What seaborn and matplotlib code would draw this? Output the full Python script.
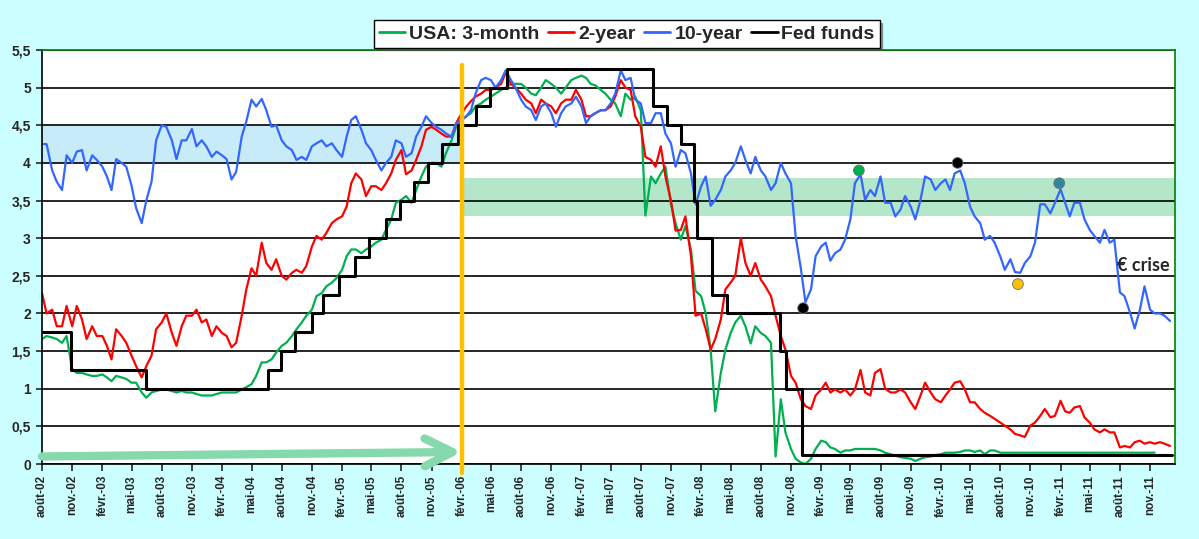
import numpy as np
import pandas as pd
import matplotlib
matplotlib.use("Agg")
import matplotlib.pyplot as plt
import matplotlib.dates as mdates
from matplotlib.lines import Line2D
from matplotlib.ticker import FuncFormatter
import seaborn as sns

nan = np.nan

# semi-monthly readings (1st and 15th of each month), Aug 2002 -> Jan 2012
dates = pd.date_range("2002-08-01", "2012-01-01", freq="SMS")

ust_10y = [
    # 2002 (Aug-Dec)
    4.25, 4.25, 3.9, 3.75, 3.64, 4.1, 4.0, 4.15, 4.17, 3.9,
    # 2003
    4.1, 4.04, 3.95, 3.82, 3.64, 4.05, 4.0, 3.95, 3.7, 3.4, 3.2, 3.5,
    3.75, 4.3, 4.5, 4.48, 4.3, 4.05, 4.3, 4.3, 4.45, 4.22, 4.3, 4.22,
    # 2004
    4.08, 4.15, 4.1, 4.05, 3.78, 3.88, 4.35, 4.55, 4.84, 4.75, 4.85, 4.7,
    4.48, 4.5, 4.3, 4.22, 4.17, 4.04, 4.08, 4.04, 4.22, 4.26, 4.3, 4.22,
    # 2005
    4.26, 4.17, 4.08, 4.35, 4.57, 4.62, 4.44, 4.26, 4.17, 4.04, 3.9, 4.0,
    4.08, 4.3, 4.26, 4.08, 4.13, 4.35, 4.48, 4.62, 4.53, 4.48, 4.44, 4.39,
    # 2006
    4.35, 4.53, 4.57, 4.62, 4.7, 4.92, 5.1, 5.13, 5.1, 5.0, 5.1, 5.23,
    5.1, 5.0, 4.84, 4.75, 4.7, 4.57, 4.75, 4.79, 4.66, 4.48, 4.66, 4.75,
    # 2007
    4.79, 4.88, 4.75, 4.53, 4.62, 4.66, 4.7, 4.7, 4.79, 4.92, 5.23, 5.1,
    5.13, 4.84, 4.79, 4.53, 4.53, 4.66, 4.66, 4.39, 4.26, 3.95, 4.17, 4.13,
    # 2008
    3.86, 3.45, 3.69, 3.82, 3.43, 3.51, 3.64, 3.82, 3.9, 4.0, 4.22, 4.04,
    3.86, 4.08, 3.9, 3.82, 3.64, 3.73, 4.0, 3.86, 3.73, 3.03, 2.6, 2.15,
    # 2009
    2.32, 2.76, 2.89, 2.94, 2.7, 2.8, 2.85, 2.98, 3.25, 3.73, 3.85, 3.51,
    3.64, 3.56, 3.82, 3.47, 3.47, 3.29, 3.38, 3.56, 3.42, 3.25, 3.51, 3.82,
    # 2010
    3.78, 3.64, 3.73, 3.78, 3.64, 3.86, 3.9, 3.73, 3.42, 3.29, 3.2, 2.98,
    3.03, 2.94, 2.76, 2.58, 2.72, 2.55, 2.54, 2.67, 2.76, 2.94, 3.45, 3.45,
    # 2011
    3.33, 3.47, 3.65, 3.47, 3.29, 3.47, 3.47, 3.25, 3.11, 3.03, 2.94, 3.11,
    2.94, 2.98, 2.28, 2.23, 2.01, 1.8, 2.05, 2.36, 2.05, 2.0, 2.0, 1.97,
    # 2012
    1.9,
]

ust_2y = [
    2.27, 2.0, 2.05, 1.83, 1.83, 2.1, 1.83, 2.1, 1.92, 1.66,
    1.83, 1.7, 1.7, 1.57, 1.39, 1.79, 1.7, 1.61, 1.44, 1.3, 1.15, 1.3,
    1.44, 1.79, 1.88, 2.0, 1.74, 1.57, 1.83, 1.97, 1.97, 2.05, 1.88, 1.92,
    1.7, 1.83, 1.74, 1.7, 1.55, 1.61, 1.97, 2.32, 2.6, 2.5, 2.94, 2.67,
    2.58, 2.72, 2.5, 2.45, 2.54, 2.58, 2.54, 2.63, 2.89, 3.03, 2.98, 3.07,
    3.2, 3.25, 3.29, 3.42, 3.73, 3.86, 3.78, 3.56, 3.69, 3.69, 3.64, 3.73,
    3.86, 4.04, 4.17, 3.85, 3.9, 4.04, 4.22, 4.44, 4.48, 4.44, 4.39, 4.35,
    4.35, 4.53, 4.66, 4.75, 4.82, 4.88, 4.92, 4.97, 4.97, 5.0, 5.05, 5.2,
    5.05, 5.0, 4.92, 4.84, 4.79, 4.66, 4.84, 4.79, 4.75, 4.66, 4.79, 4.84,
    4.84, 4.97, 4.84, 4.62, 4.62, 4.66, 4.7, 4.7, 4.75, 4.88, 5.1, 5.0,
    4.97, 4.62, 4.48, 4.08, 4.04, 3.95, 4.22, 3.82, 3.5, 3.1, 3.11, 3.29,
    2.76, 1.97, 2.0, 1.79, 1.52, 1.66, 1.92, 2.32, 2.41, 2.5, 3.0, 2.67,
    2.5, 2.67, 2.45, 2.36, 2.23, 1.97, 1.7, 1.52, 1.17, 1.08, 0.86, 0.77,
    0.73, 0.91, 0.99, 1.08, 0.95, 0.99, 0.95, 0.99, 0.91, 0.99, 1.25, 0.95,
    0.91, 1.21, 1.26, 1.0, 0.95, 0.95, 0.99, 0.95, 0.82, 0.73, 0.91, 1.08,
    0.95, 0.86, 0.82, 0.91, 0.99, 1.08, 1.1, 0.99, 0.82, 0.82, 0.73, 0.68,
    0.64, 0.6, 0.55, 0.51, 0.46, 0.4, 0.38, 0.36, 0.51, 0.55, 0.64, 0.73,
    0.62, 0.64, 0.84, 0.7, 0.68, 0.75, 0.77, 0.62, 0.55, 0.46, 0.42, 0.46,
    0.42, 0.42, 0.22, 0.24, 0.22, 0.29, 0.31, 0.27, 0.29, 0.27, 0.29, 0.27,
    0.24,
]

# 3-month bill: no readings between Aug 2010 and Nov 2011 (Excel joins the gap)
ust_3m = [
    1.66, 1.7, 1.68, 1.66, 1.61, 1.7, 1.26, 1.21, 1.21, 1.19,
    1.17, 1.17, 1.19, 1.15, 1.1, 1.17, 1.15, 1.13, 1.08, 1.08, 0.95, 0.88,
    0.95, 0.97, 0.99, 0.99, 0.97, 0.95, 0.97, 0.95, 0.95, 0.93, 0.91, 0.91,
    0.91, 0.93, 0.95, 0.95, 0.95, 0.95, 0.99, 1.02, 1.06, 1.17, 1.35, 1.35,
    1.39, 1.48, 1.57, 1.61, 1.7, 1.79, 1.88, 1.97, 2.05, 2.23, 2.27, 2.36,
    2.41, 2.47, 2.58, 2.76, 2.85, 2.85, 2.8, 2.85, 2.89, 2.94, 2.98, 3.11,
    3.25, 3.47, 3.51, 3.56, 3.47, 3.64, 3.82, 3.95, 4.0, 4.0, 3.95, 4.13,
    4.3, 4.48, 4.57, 4.62, 4.66, 4.75, 4.79, 4.84, 4.88, 4.92, 4.97, 5.0,
    5.05, 5.05, 5.05, 5.0, 4.92, 4.9, 5.0, 5.1, 5.05, 5.0, 4.92, 5.0,
    5.1, 5.13, 5.16, 5.13, 5.05, 5.03, 4.97, 4.92, 4.84, 4.79, 4.62, 4.92,
    4.84, 4.88, 4.7, 3.3, 3.82, 3.73, 3.86, 3.95, 3.45, 3.2, 2.98, 3.16,
    2.85, 2.3, 2.23, 2.0, 1.52, 0.7, 1.21, 1.52, 1.74, 1.88, 1.97, 1.83,
    1.6, 1.83, 1.74, 1.7, 1.61, 0.1, 0.86, 0.42, 0.2, 0.07, 0.02, 0.0,
    0.07, 0.2, 0.31, 0.29, 0.22, 0.2, 0.15, 0.18, 0.18, 0.2, 0.2, 0.2,
    0.2, 0.2, 0.18, 0.15, 0.13, 0.11, 0.09, 0.08, 0.07, 0.04, 0.07, 0.09,
    0.1, 0.12, 0.13, 0.15, 0.15, 0.15, 0.16, 0.18, 0.18, 0.16, 0.18, 0.13,
    0.18, 0.18, 0.15, nan, nan, nan, nan, nan, nan, nan, nan, nan,
    nan, nan, nan, nan, nan, nan, nan, nan, nan, nan, nan, nan,
    nan, nan, nan, nan, nan, nan, nan, nan, nan, 0.15, nan, nan,
    nan,
]

# Fed funds target: change dates and new level
ff_dates = ["2002-08-01", "2002-10-27", "2003-06-13", "2004-06-19", "2004-07-30",
            "2004-09-11", "2004-11-01", "2004-12-04", "2005-01-23", "2005-03-12",
            "2005-04-24", "2005-06-16", "2005-07-29", "2005-09-09", "2005-10-22",
            "2005-12-04", "2006-01-22", "2006-03-16", "2006-04-28", "2006-06-18",
            "2007-09-07", "2007-10-19", "2007-12-01", "2008-01-11", "2008-01-19",
            "2008-03-06", "2008-04-19", "2008-09-27", "2008-10-17", "2008-12-06",
            "2012-01-07"]
ff_rate = [1.75, 1.25, 1.0, 1.25, 1.5, 1.75, 2.0, 2.25, 2.5, 2.75,
           3.0, 3.25, 3.5, 3.75, 4.0, 4.25, 4.5, 4.75, 5.0, 5.25,
           4.75, 4.5, 4.25, 3.5, 3.0, 2.25, 2.0, 1.5, 1.0, 0.125,
           0.125]

# highlighted 10-year points
dot_dates = ["2008-12-08", "2009-05-27", "2010-03-24", "2010-09-24", "2011-01-28"]
dot_vals = [2.07, 3.9, 4.0, 2.39, 3.73]
dot_colors = ["black", "#00B050", "black", "#FFC000", "#31859C"]

# annotations
x_start, x_end = "2002-08-01", "2012-01-16"
split_date = "2006-02-01"
band_before = (4.0, 4.5)
band_after = (3.3, 3.8)
arrow_y = (0.1, 0.16)
crise_date, crise_y = "2011-07-23", 2.64

fr_month = {2: "févr.", 5: "mai", 8: "août", 11: "nov."}
tick_dates = pd.date_range("2002-08-01", "2011-11-01", freq="3MS")
tick_labels = [f"{fr_month[d.month]}-{d:%y}" for d in tick_dates]

sns.set_style("white")
plt.rcParams["font.family"] = ["Liberation Sans", "DejaVu Sans"]
plt.rcParams["font.weight"] = "bold"

df = pd.DataFrame({"date": dates, "m3": ust_3m, "y2": ust_2y, "y10": ust_10y})
ff = pd.DataFrame({"date": pd.to_datetime(ff_dates), "rate": ff_rate})

fig = plt.figure(figsize=(11.99, 5.39), dpi=100, facecolor="#CCFFFF")
ax = fig.add_axes([42 / 1199, 75 / 539, 1133 / 1199, 414 / 539])
ax.set_facecolor("white")

d = lambda s: mdates.date2num(pd.Timestamp(s))

ax.fill_between([d(x_start), d(split_date)], *band_before, color="#C8EBF9", lw=0, zorder=0.3)
ax.fill_between([d(split_date), d(x_end)], *band_after, color="#B4E6C9", lw=0, zorder=0.3)

green, red, blue = "#00B050", "#FF0000", "#3366FF"
sns.lineplot(data=df.dropna(subset=["m3"]), x="date", y="m3", color=green, linewidth=1.6, ax=ax, zorder=2)
sns.lineplot(data=df, x="date", y="y2", color=red, linewidth=1.6, ax=ax, zorder=2.1)
sns.lineplot(data=df, x="date", y="y10", color=blue, linewidth=1.6, ax=ax, zorder=2.2)
sns.lineplot(data=ff, x="date", y="rate", color="black", linewidth=2.2, drawstyle="steps-post", ax=ax, zorder=2.3)

ax.plot([d(split_date)] * 2, [5.3, -0.12], color="#FFC000", linewidth=3.2, clip_on=False, zorder=5)
ax.annotate("", xy=(d(split_date), arrow_y[1]), xytext=(d(x_start), arrow_y[0]),
            arrowprops=dict(arrowstyle="->,head_length=2.0,head_width=1.0", color="#86D9AC",
                            lw=6, shrinkA=0, shrinkB=0, mutation_scale=10),
            annotation_clip=False, zorder=4)

ax.scatter([d(s) for s in dot_dates], dot_vals, s=60, c=dot_colors, edgecolors="#707070",
           linewidths=0.6, zorder=6)
ax.text(d(crise_date), crise_y, "€ crise", fontsize=13, fontweight="bold",
        family=["Lato", "DejaVu Sans"], ha="left", va="center", zorder=6)

ax.set_xlim(d(x_start), d(x_end))
ax.set_ylim(0, 5.5)
ax.set_yticks(np.arange(0, 5.51, 0.5))
ax.yaxis.set_major_formatter(FuncFormatter(lambda v, _: f"{v:g}".replace(".", ",")))
ax.set_xticks([d(t) for t in tick_dates])
ax.set_xticklabels(tick_labels, rotation=90, fontsize=8.5, fontweight="bold")
ax.tick_params(axis="y", labelsize=10, left=True, length=4, width=1.2, pad=4)
ax.tick_params(axis="x", bottom=True, length=5, width=1.2, pad=3)
ax.set_xlabel("")
ax.set_ylabel("")

ax.set_axisbelow(True)
ax.yaxis.grid(True, color="black", linewidth=1.2)
ax.xaxis.grid(False)
for side in ["left", "bottom"]:
    ax.spines[side].set_color("black")
    ax.spines[side].set_linewidth(1.2)
for side in ["top", "right"]:
    ax.spines[side].set_color("#008000")
    ax.spines[side].set_linewidth(1.2)

handles = [Line2D([], [], color=c, linewidth=2) for c in [green, red, blue, "black"]]
leg = ax.legend(handles, ["USA: 3-month", "2-year", "10-year", "Fed funds"],
                loc="center", bbox_to_anchor=(0.516, 1.039), ncol=4, frameon=True,
                fancybox=False, shadow=True, framealpha=1, edgecolor="black",
                prop={"weight": "bold", "size": 14}, handlelength=1.35,
                handletextpad=0.2, columnspacing=0.45, borderpad=0.25)
leg.get_frame().set_linewidth(1.0)

fig.savefig("out.png", dpi=100, facecolor=fig.get_facecolor())
